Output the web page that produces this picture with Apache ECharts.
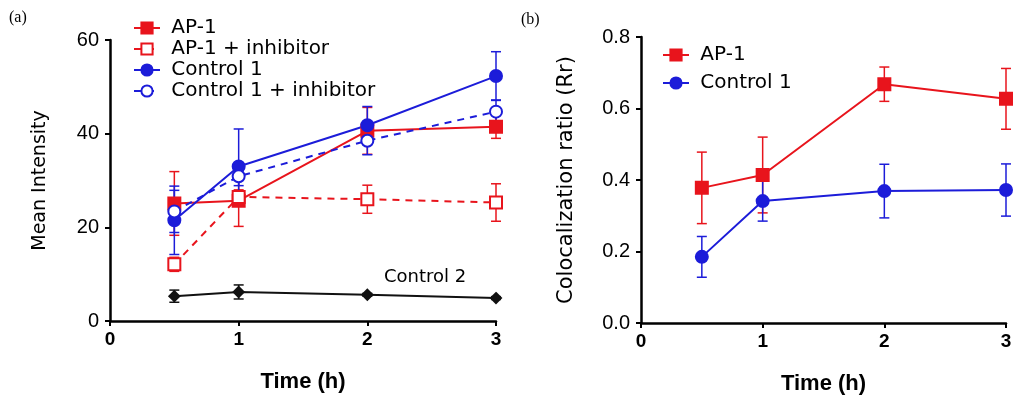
<!DOCTYPE html>
<html>
<head>
<meta charset="utf-8"/>
<title>AP-1 chart</title>
<script src="https://cdn.jsdelivr.net/npm/echarts@6/dist/echarts.min.js"></script>
<style>
  html,body{margin:0;padding:0;background:#fff;}
</style>
</head>
<body>
<div id="chart" style="width:1018px;height:401px;"></div>
<script>
// time points (h)
var times = [0.5, 1, 2, 3];

// panel (a) mean intensity
var ap1 = [25.1, 25.7, 40.6, 41.5];
var ap1Err = [6.8, 5.5, 5.0, 2.5];
var ap1Inh = [12.1, 26.5, 26.0, 25.3];
var ap1InhErr = [1.5, 1.5, 3.0, 4.0];
var ctrl1 = [21.5, 33.0, 41.8, 52.3];
var ctrl1Err = [7.3, 8.0, 4.0, 5.2];
var ctrl1Inh = [23.4, 30.9, 38.5, 44.7];
var ctrl1InhErr = [4.5, 2.0, 3.0, 2.5];
var ctrl2 = [5.3, 6.2, 5.6, 4.9];
var ctrl2Err = [1.3, 1.5, 0.3, 0.3];

// panel (b) colocalization ratio
var ap1R = [0.378, 0.414, 0.668, 0.627];
var ap1RErr = [0.100, 0.106, 0.048, 0.085];
var ctrl1R = [0.185, 0.341, 0.369, 0.372];
var ctrl1RErr = [0.057, 0.056, 0.075, 0.073];

var RED = '#e8141c', BLUE = '#1c1cd9', BLACK = '#111';
var sans = '"Liberation Sans", Arial, sans-serif';
var wide = '"DejaVu Sans", Verdana, sans-serif';

function pts(ys){
  return times.map(function(t, i){ return [t, ys[i]]; });
}
function errPts(ys, es){
  return times.map(function(t, i){ return [t, ys[i] - es[i], ys[i] + es[i]]; });
}

function errSeries(ys, es, color, idx){
  return {
    type: 'custom',
    xAxisIndex: idx, yAxisIndex: idx,
    silent: true,
    z: 1,
    data: errPts(ys, es),
    encode: {x: 0, y: [1, 2]},
    renderItem: function(params, api){
      var lo = api.coord([api.value(0), api.value(1)]);
      var hi = api.coord([api.value(0), api.value(2)]);
      var w = 5;
      var st = {stroke: color, lineWidth: 1.5};
      return {
        type: 'group',
        children: [
          {type: 'line', shape: {x1: lo[0], y1: lo[1], x2: hi[0], y2: hi[1]}, style: st},
          {type: 'line', shape: {x1: lo[0] - w, y1: lo[1], x2: lo[0] + w, y2: lo[1]}, style: st},
          {type: 'line', shape: {x1: hi[0] - w, y1: hi[1], x2: hi[0] + w, y2: hi[1]}, style: st}
        ]
      };
    }
  };
}

function lineSeries(name, ys, color, symbol, open, dashed, idx){
  return {
    name: name,
    type: 'line',
    xAxisIndex: idx, yAxisIndex: idx,
    data: pts(ys),
    symbol: symbol,
    symbolSize: symbol === 'diamond' ? 10 : 12,
    z: 3,
    lineStyle: {color: color, width: 2, type: dashed ? [7, 6] : 'solid'},
    itemStyle: {color: open ? '#fff' : color, borderColor: color, borderWidth: 2, opacity: 1}
  };
}

function xAxisCfg(idx){
  return {
    type: 'value', gridIndex: idx, min: 0, max: 3, interval: 1,
    name: 'Time (h)', nameLocation: 'middle', nameGap: 50,
    nameTextStyle: {fontFamily: sans, fontSize: 22, fontWeight: 'bold', color: '#000'},
    axisLine: {lineStyle: {color: '#000', width: 2.5}},
    axisTick: {length: 5, lineStyle: {color: '#000', width: 2}},
    axisLabel: {fontFamily: sans, fontSize: 19, fontWeight: 'bold', color: '#000', margin: 9},
    splitLine: {show: false}
  };
}

function yAxisCfg(idx, name, max, interval, digits, gap, nameSize){
  return {
    type: 'value', gridIndex: idx, min: 0, max: max, interval: interval,
    name: name, nameLocation: 'middle', nameGap: gap, nameRotate: 90,
    nameTextStyle: {fontFamily: wide, fontSize: nameSize, color: '#000'},
    axisLine: {show: true, lineStyle: {color: '#000', width: 2.5}},
    axisTick: {show: true, length: 5, lineStyle: {color: '#000', width: 2}},
    axisLabel: {fontFamily: sans, fontSize: 20, color: '#000', margin: 11,
      formatter: function(v){ return v.toFixed(digits); }},
    splitLine: {show: false}
  };
}

var chart = echarts.init(document.getElementById('chart'));
chart.setOption({
  backgroundColor: '#fff',
  animation: false,
  grid: [
    {left: 110, right: 522, top: 40, bottom: 80},
    {left: 641, right: 12, top: 37, bottom: 78}
  ],
  xAxis: [xAxisCfg(0), xAxisCfg(1)],
  yAxis: [
    yAxisCfg(0, 'Mean Intensity', 60, 20, 0, 60, 19),
    yAxisCfg(1, 'Colocalization ratio (Rr)', 0.8, 0.2, 1, 64, 21)
  ],
  legend: [
    {
      left: 128, top: 13, orient: 'vertical', itemGap: 1,
      itemWidth: 26, itemHeight: 14,
      formatter: ' {name}',
      textStyle: {fontFamily: wide, fontSize: 20, lineHeight: 20, color: '#000'},
      data: ['AP-1', 'AP-1 + inhibitor', 'Control 1', 'Control 1 + inhibitor']
    },
    {
      left: 657, top: 40, orient: 'vertical', itemGap: 8,
      itemWidth: 26, itemHeight: 14,
      formatter: ' {name}',
      textStyle: {fontFamily: wide, fontSize: 20, lineHeight: 20, color: '#000'},
      data: ['AP-1 ', 'Control 1 ']
    }
  ],
  graphic: [
    {type: 'text', left: 9, top: 10, style: {text: '(a)', font: '16px "Liberation Serif", serif', fill: '#000'}},
    {type: 'text', left: 521, top: 12, style: {text: '(b)', font: '16px "Liberation Serif", serif', fill: '#000'}},
    {type: 'text', left: 384, top: 268, style: {text: 'Control 2', font: '18px "DejaVu Sans", sans-serif', fill: '#000'}}
  ],
  series: [
    errSeries(ap1, ap1Err, RED, 0),
    errSeries(ap1Inh, ap1InhErr, RED, 0),
    errSeries(ctrl1, ctrl1Err, BLUE, 0),
    errSeries(ctrl1Inh, ctrl1InhErr, BLUE, 0),
    errSeries(ctrl2, ctrl2Err, BLACK, 0),
    lineSeries('AP-1', ap1, RED, 'rect', false, false, 0),
    lineSeries('AP-1 + inhibitor', ap1Inh, RED, 'rect', true, true, 0),
    lineSeries('Control 1', ctrl1, BLUE, 'circle', false, false, 0),
    lineSeries('Control 1 + inhibitor', ctrl1Inh, BLUE, 'circle', true, true, 0),
    lineSeries('Control 2', ctrl2, BLACK, 'diamond', false, false, 0),
    errSeries(ap1R, ap1RErr, RED, 1),
    errSeries(ctrl1R, ctrl1RErr, BLUE, 1),
    lineSeries('AP-1 ', ap1R, RED, 'rect', false, false, 1),
    lineSeries('Control 1 ', ctrl1R, BLUE, 'circle', false, false, 1)
  ]
});
</script>
</body>
</html>
